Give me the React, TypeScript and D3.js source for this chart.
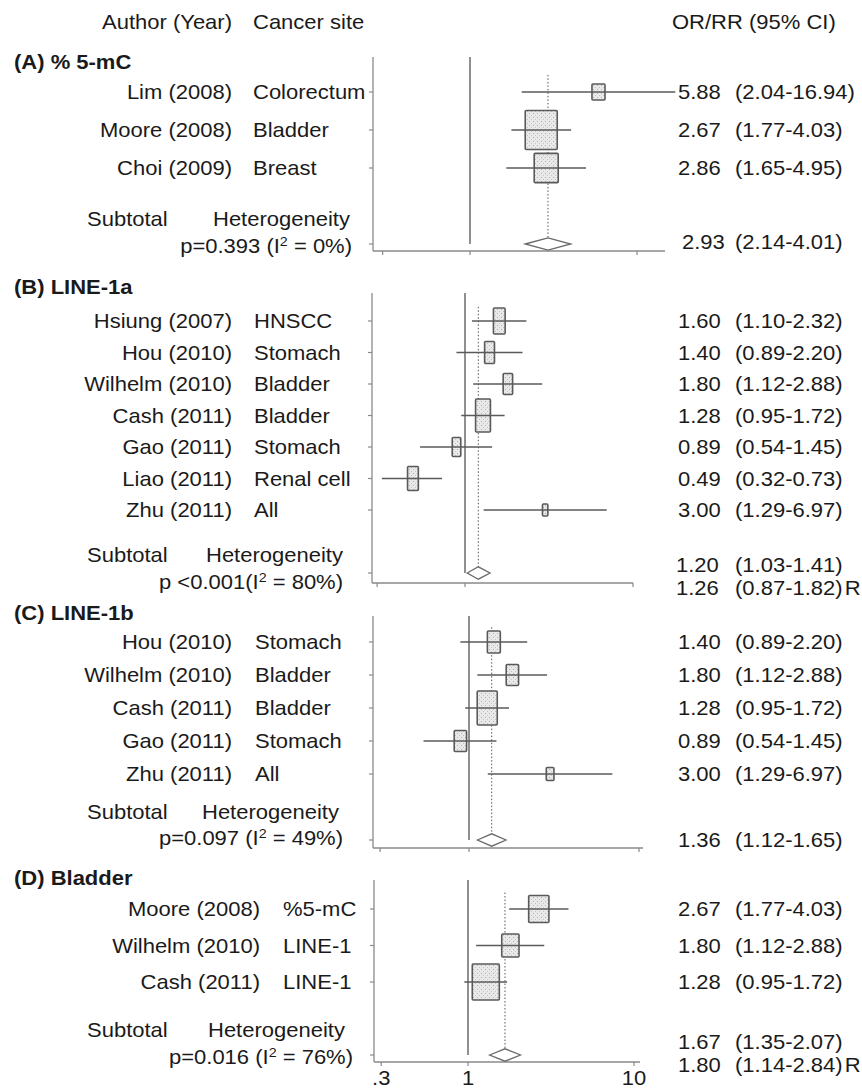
import React from 'react';
import * as d3 from 'd3';

// ---------- DATA ----------
const studiesA = [
  { author: 'Lim (2008)', site: 'Colorectum', or: 5.88, lo: 2.04, hi: 16.94, weight: 9.6 },
  { author: 'Moore (2008)', site: 'Bladder', or: 2.67, lo: 1.77, hi: 4.03, weight: 57.8 },
  { author: 'Choi (2009)', site: 'Breast', or: 2.86, lo: 1.65, hi: 4.95, weight: 32.6 },
];
const studiesB = [
  { author: 'Hsiung (2007)', site: 'HNSCC', or: 1.6, lo: 1.1, hi: 2.32, weight: 17.9 },
  { author: 'Hou (2010)', site: 'Stomach', or: 1.4, lo: 0.89, hi: 2.2, weight: 12.8 },
  { author: 'Wilhelm (2010)', site: 'Bladder', or: 1.8, lo: 1.12, hi: 2.88, weight: 11.7 },
  { author: 'Cash (2011)', site: 'Bladder', or: 1.28, lo: 0.95, hi: 1.72, weight: 28.9 },
  { author: 'Gao (2011)', site: 'Stomach', or: 0.89, lo: 0.54, hi: 1.45, weight: 9.6 },
  { author: 'Liao (2011)', site: 'Renal cell', or: 0.49, lo: 0.32, hi: 0.73, weight: 15.3 },
  { author: 'Zhu (2011)', site: 'All', or: 3.0, lo: 1.29, hi: 6.97, weight: 3.8 },
];
const studiesC = [
  { author: 'Hou (2010)', site: 'Stomach', or: 1.4, lo: 0.89, hi: 2.2, weight: 18.0 },
  { author: 'Wilhelm (2010)', site: 'Bladder', or: 1.8, lo: 1.12, hi: 2.88, weight: 16.4 },
  { author: 'Cash (2011)', site: 'Bladder', or: 1.28, lo: 0.95, hi: 1.72, weight: 43.0 },
  { author: 'Gao (2011)', site: 'Stomach', or: 0.89, lo: 0.54, hi: 1.45, weight: 16.4 },
  { author: 'Zhu (2011)', site: 'All', or: 3.0, lo: 1.29, hi: 6.97, weight: 6.3 },
];
const studiesD = [
  { author: 'Moore (2008)', site: '%5-mC', or: 2.67, lo: 1.77, hi: 4.03, weight: 28.5 },
  { author: 'Wilhelm (2010)', site: 'LINE-1', or: 1.8, lo: 1.12, hi: 2.88, weight: 20.7 },
  { author: 'Cash (2011)', site: 'LINE-1', or: 1.28, lo: 0.95, hi: 1.72, weight: 50.7 },
];

const subtotalA = [{ or: 2.93, lo: 2.14, hi: 4.01, suffix: '' }];
const subtotalB = [
  { or: 1.2, lo: 1.03, hi: 1.41, suffix: '' },
  { or: 1.26, lo: 0.87, hi: 1.82, suffix: 'R' },
];
const subtotalC = [{ or: 1.36, lo: 1.12, hi: 1.65, suffix: '' }];
const subtotalD = [
  { or: 1.67, lo: 1.35, hi: 2.07, suffix: '' },
  { or: 1.8, lo: 1.14, hi: 2.84, suffix: 'R' },
];

const heterogeneityP = ['p=0.393 (I', 'p <0.001(I', 'p=0.097 (I', 'p=0.016 (I'];
const heterogeneityI2 = [' = 0%)', ' = 80%)', ' = 49%)', ' = 76%)'];
const panelTitles = ['(A) % 5-mC', '(B) LINE-1a', '(C) LINE-1b', '(D) Bladder'];

const tickValues = [0.3, 1, 10];
const tickLabels = ['.3', '1', '10'];

// ---------- LAYOUT ----------
const layouts = [
  { titleY: 62, axisX: 373, top: 57, bottom: 251, right: 665, x1: 470, decade: 167, firstY: 92, step: 38, authorX: 232, siteX: 253, subY: 219, pY: 246, hetX: 213, pRight: 352, subTextY: [242], subValX: 682, boxH: 5.13, aspect: 0.82, showLabels: false },
  { titleY: 287, axisX: 372, top: 293, bottom: 583, right: 633, x1: 465, decade: 168, firstY: 321, step: 31.5, authorX: 232, siteX: 254, subY: 555, pY: 582, hetX: 206, pRight: 343, subTextY: [565, 588], subValX: 676, boxH: 6.14, aspect: 0.45, showLabels: false },
  { titleY: 613, axisX: 373, top: 616, bottom: 848, right: 643, x1: 469, decade: 170, firstY: 642, step: 33, authorX: 232, siteX: 255, subY: 812, pY: 838, hetX: 202, pRight: 343, subTextY: [840], subValX: 678, boxH: 5.18, aspect: 0.59, showLabels: false },
  { titleY: 878, axisX: 374, top: 880, bottom: 1062, right: 640, x1: 468, decade: 166, firstY: 909, step: 36.5, authorX: 260, siteX: 283, subY: 1030, pY: 1057, hetX: 208, pRight: 353, subTextY: [1042, 1065], subValX: 678, boxH: 5.06, aspect: 0.75, showLabels: true },
];

const allStudies = [studiesA, studiesB, studiesC, studiesD];
const allSubtotals = [subtotalA, subtotalB, subtotalC, subtotalD];

const FONT = "'Liberation Sans', Arial, Helvetica, sans-serif";
const TEXT = '#1a1a1a';
const VAL_X = 678;
const CI_X = 735;

const T = ({ x, y, anchor = 'start', bold = false, size = 20, children }: any) => (
  <text
    transform={`translate(${x},${y}) scale(1.1,1)`}
    textAnchor={anchor}
    dy="0.35em"
    fontFamily={FONT}
    fontSize={size}
    fontWeight={bold ? 'bold' : 'normal'}
    fill={TEXT}
  >
    {children}
  </text>
);

const fmt = (v: number) => v.toFixed(2);

function Panel({ idx }: { idx: number }) {
  const L = layouts[idx];
  const studies = allStudies[idx];
  const subs = allSubtotals[idx];
  const x = d3
    .scaleLog()
    .domain([0.3, 10])
    .range([L.x1 + L.decade * Math.log10(0.3), L.x1 + L.decade]);
  const y = d3.scaleLinear().domain([0, 1]).range([L.firstY, L.firstY + L.step]);
  const n = studies.length;
  const subRow = y(n + 1);
  const pooled = subs[0];
  const dH = 6.2;

  return (
    <g>
      <T x={14} y={L.titleY} bold>{panelTitles[idx]}</T>
      {/* left axis */}
      <line x1={L.axisX} x2={L.axisX} y1={L.top} y2={L.bottom} stroke="#8a8a8a" strokeWidth={1.3} />
      {studies.map((_, i) => (
        <line key={'lt' + i} x1={L.axisX - 4} x2={L.axisX} y1={y(i)} y2={y(i)} stroke="#8a8a8a" strokeWidth={1.2} />
      ))}
      <line x1={L.axisX - 4} x2={L.axisX} y1={subRow} y2={subRow} stroke="#8a8a8a" strokeWidth={1.2} />
      {/* bottom axis */}
      <line x1={L.axisX} x2={L.right} y1={L.bottom} y2={L.bottom} stroke="#8a8a8a" strokeWidth={1.3} />
      {tickValues.map((t, i) => (
        <g key={'bt' + i}>
          <line x1={x(t)} x2={x(t)} y1={L.bottom} y2={L.bottom + 4} stroke="#8a8a8a" strokeWidth={1.2} />
          {L.showLabels && <T x={x(t)} y={L.bottom + 16} anchor="middle">{tickLabels[i]}</T>}
        </g>
      ))}
      {/* null line */}
      <line x1={x(1)} x2={x(1)} y1={L.top} y2={subRow} stroke="#6a6a6a" strokeWidth={1.5} />
      {/* pooled dotted line */}
      <line x1={x(pooled.or)} x2={x(pooled.or)} y1={y(-0.45)} y2={subRow} stroke="#555" strokeWidth={1} strokeDasharray="1.5,2" />
      {/* studies */}
      {studies.map((s, i) => {
        const h = L.boxH * Math.sqrt(s.weight);
        const w = h * L.aspect;
        return (
          <g key={'s' + i}>
            <T x={L.authorX} y={y(i)} anchor="end">{s.author}</T>
            <T x={L.siteX} y={y(i)}>{s.site}</T>
            <rect x={x(s.or) - w / 2} y={y(i) - h / 2} width={w} height={h} fill="url(#stipple)" stroke="#5a5a5a" strokeWidth={1.6} rx={1} />
            <line x1={x(s.lo)} x2={x(s.hi)} y1={y(i)} y2={y(i)} stroke="#5a5a5a" strokeWidth={1.5} />
            <T x={VAL_X} y={y(i)}>{fmt(s.or)}</T>
            <T x={CI_X} y={y(i)}>{`(${fmt(s.lo)}-${fmt(s.hi)})`}</T>
          </g>
        );
      })}
      {/* subtotal */}
      <path
        d={`M${x(pooled.lo)},${subRow} L${x(pooled.or)},${subRow - dH} L${x(pooled.hi)},${subRow} L${x(pooled.or)},${subRow + dH} Z`}
        fill="#fff"
        stroke="#6a6a6a"
        strokeWidth={1.3}
      />
      <T x={87} y={L.subY}>Subtotal</T>
      <T x={L.hetX} y={L.subY}>Heterogeneity</T>
      <text
        transform={`translate(${L.pRight},${L.pY}) scale(1.1,1)`}
        textAnchor="end"
        dy="0.35em"
        fontFamily={FONT}
        fontSize={20}
        fill={TEXT}
      >
        {heterogeneityP[idx]}
        <tspan fontSize={13} dy={-7}>2</tspan>
        <tspan dy={7}>{heterogeneityI2[idx]}</tspan>
      </text>
      {subs.map((s, i) => (
        <g key={'st' + i}>
          <T x={L.subValX} y={L.subTextY[i]}>{fmt(s.or)}</T>
          <T x={CI_X} y={L.subTextY[i]}>
            {`(${fmt(s.lo)}-${fmt(s.hi)})`}
            {s.suffix ? <tspan dx={2}>{s.suffix}</tspan> : null}
          </T>
        </g>
      ))}
    </g>
  );
}

export default function App() {
  return (
    <svg
      width={862}
      height={1090}
      viewBox="0 0 862 1090"
      style={{ position: 'absolute', left: 0, top: 0, background: '#fff' }}
    >
      <defs>
        <pattern id="stipple" width={4} height={4} patternUnits="userSpaceOnUse">
          <rect width={4} height={4} fill="#e9e9e9" />
          <rect x={1} y={1} width={1} height={1} fill="#b0b0b0" />
          <rect x={3} y={3} width={1} height={1} fill="#c2c2c2" />
        </pattern>
      </defs>
      <rect width={862} height={1090} fill="#fff" />
      <T x={232} y={22} anchor="end">Author (Year)</T>
      <T x={253} y={22}>Cancer site</T>
      <T x={672} y={22}>OR/RR (95% CI)</T>
      {[0, 1, 2, 3].map((i) => (
        <Panel key={i} idx={i} />
      ))}
    </svg>
  );
}
